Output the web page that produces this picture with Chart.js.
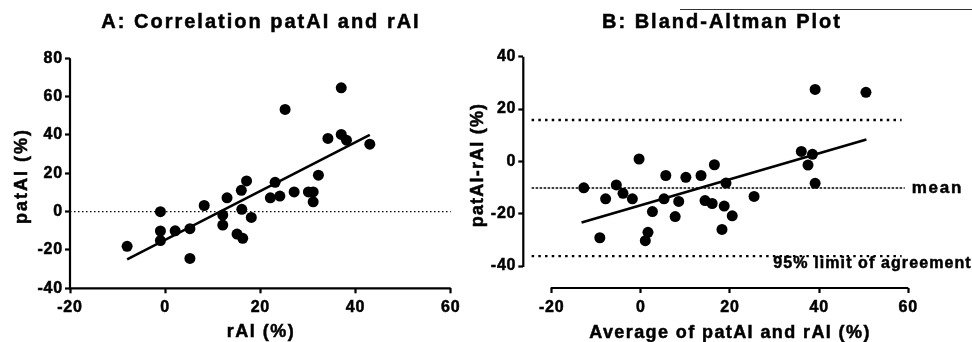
<!DOCTYPE html>
<html>
<head>
<meta charset="utf-8">
<script src="https://cdn.jsdelivr.net/npm/chart.js@4/dist/chart.umd.min.js"></script>
<style>
    html, body { margin: 0; padding: 0; background: #fff; }
    #wrap { position: relative; width: 972px; height: 342px; overflow: hidden; }
    canvas { position: absolute; top: 0; }
    #corrChart { left: 0; }
    #baChart { left: 466px; }
</style>
</head>
<body>
<div id="wrap">
    <canvas id="corrChart" width="466" height="342"></canvas>
    <canvas id="baChart" width="506" height="342"></canvas>
</div>
<script>
// ===== DATA =====

// A: correlation patAI vs rAI
const corrRai   = [-8, -1, -1, -1, 2.1, 5.2, 5.2, 8.2, 12.1, 12.1, 13, 15.1, 16.3, 16, 17.1, 16.1, 18.1, 22.1, 24.1, 23.1, 25.2, 27.1, 30.1, 31.1, 31.1, 32.2, 34.2, 37, 37, 38.1, 43];
const corrPatai = [-18.1, 0, -10.1, -15.1, -10, -8.9, -24.4, 3.2, -1.8, -7, 7.2, -11.7, -13.9, 11.1, 16, 1.2, -3, 7.2, 8.1, 15.3, 53.3, 10.3, 10.3, 10.3, 5.1, 19, 38.2, 64.6, 40.3, 37.3, 35.2];
const corrFitX  = [-8, 43];
const corrFitY  = [-24.9, 40];
const corrZeroX = [-20, 60];
const corrXTicks = [-20, 0, 20, 40, 60];
const corrYTicks = [-40, -20, 0, 20, 40, 60, 80];

// B: Bland-Altman
const baAvg  = [-12.8, -9.2, -7.9, -5.5, -4, -1.9, -0.4, 1, 1.6, 2.6, 5.2, 5.6, 7.7, 8.5, 10.1, 13.5, 14.4, 16, 16.5, 18.2, 18.7, 19.1, 20.5, 25.4, 36, 38.5, 37.5, 39.1, 39.1, 50.5];
const baDiff = [-10.1, -29.2, -14.3, -9, -12.2, -14.3, 0.9, -30.3, -27.1, -19.2, -14.3, -5.4, -21.1, -15.3, -6.1, -5.4, -15, -16.1, -1.3, -26, -17.1, -8.3, -20.8, -13.4, 3.8, 2.7, -1.4, 27.5, -8.4, 26.4];
const baFitX  = [-13.3, 50.6];
const baFitY  = [-23.4, 8.4];
const baMean  = -10.2;
const baUpper = 15.8;
const baLower = -36.2;
const baLimitX = [-24.5, 58.5];
const baMeanX  = [-24.5, 59.2];
const baXTicks = [-20, 0, 20, 40, 60];
const baYTicks = [-40, -20, 0, 20, 40];

const FONT = '"Liberation Sans", Arial, sans-serif';

// ===== HELPERS =====

function pts(xs, ys) {
    return xs.map((x, i) => ({ x: x, y: ys[i] }));
}

function hline(xs, y) {
    return xs.map(x => ({ x: x, y: y }));
}

function drawText(ctx, text, x, y, size, spacing, align, rotate) {
    ctx.save();
    ctx.font = 'bold ' + size + 'px ' + FONT;
    ctx.letterSpacing = spacing + 'px';
    ctx.fillStyle = '#000';
    ctx.strokeStyle = '#000';
    ctx.lineWidth = 0.5;
    ctx.textAlign = align || 'center';
    ctx.textBaseline = 'middle';
    ctx.translate(x, y);
    if (rotate) ctx.rotate(-Math.PI / 2);
    ctx.fillText(text, 0, 0);
    ctx.strokeText(text, 0, 0);
    ctx.restore();
}

// axis lines drawn only over the tick range (Prism-style offset axes)
const axisPlugin = {
    id: 'axisLines',
    beforeDraw(chart) {
        chart.ctx.letterSpacing = '0.8px';
    },
    afterDraw(chart, args, opts) {
        const ctx = chart.ctx;
        const xs = chart.scales.x, ys = chart.scales.y;
        const a = chart.chartArea;
        ctx.save();
        ctx.strokeStyle = '#000';
        ctx.lineWidth = 2.2;
        ctx.beginPath();
        ctx.moveTo(a.left, ys.getPixelForValue(opts.yRange[1]));
        ctx.lineTo(a.left, ys.getPixelForValue(opts.yRange[0]) + 1);
        ctx.moveTo(xs.getPixelForValue(opts.xRange[0]) - 1, a.bottom);
        ctx.lineTo(xs.getPixelForValue(opts.xRange[1]), a.bottom);
        ctx.stroke();
        ctx.restore();
        (opts.texts || []).forEach(t => {
            drawText(ctx, t.text, t.x, t.y, t.size, t.spacing, t.align, t.rotate);
        });
        if (opts.extra) opts.extra(chart);
    }
};

function scaleOpts(min, max, ticks, size, side) {
    return {
        type: 'linear',
        min: min,
        max: max,
        afterBuildTicks: s => { s.ticks = ticks.map(v => ({ value: v })); },
        afterFit: s => {
            if (side === 'x') s.height = size; else s.width = size;
        },
        border: { display: false },
        grid: { display: true, drawOnChartArea: false, drawTicks: true, tickLength: 5, tickWidth: 2.2, tickColor: '#000' },
        ticks: {
            color: '#000',
            textStrokeColor: '#000',
            textStrokeWidth: 0.5,
            padding: side === 'x' ? 5 : 2,
            font: { family: FONT, size: 16, weight: 'bold' },
            maxRotation: 0,
            autoSkip: false
        }
    };
}

function pointSet(data) {
    return { data: data, pointRadius: 5.5, pointBackgroundColor: '#000', pointBorderWidth: 0, showLine: false };
}

function lineSet(data, width, dash) {
    return { data: data, showLine: true, pointRadius: 0, borderColor: '#000', borderWidth: width, borderDash: dash || [], clip: false };
}

// ===== CHART A =====

new Chart(document.getElementById('corrChart'), {
    type: 'scatter',
    data: {
        datasets: [
            pointSet(pts(corrRai, corrPatai)),
            lineSet(pts(corrFitX, corrFitY), 2.6),
            lineSet(hline(corrZeroX, 0), 1.2, [1.5, 2.5])
        ]
    },
    options: {
        responsive: false,
        animation: false,
        events: [],
        layout: { padding: { top: 58.3, right: 15.3, left: 0, bottom: 0 } },
        scales: {
            x: scaleOpts(-20, 60, corrXTicks, 53.7, 'x'),
            y: scaleOpts(-40, 80, corrYTicks, 70, 'y')
        },
        plugins: {
            legend: { display: false },
            tooltip: { enabled: false },
            axisLines: {
                xRange: [-20, 60],
                yRange: [-40, 80],
                texts: [
                    { text: 'A: Correlation patAI and rAI', x: 261, y: 22, size: 20, spacing: 2 },
                    { text: 'rAI (%)', x: 261, y: 332, size: 18, spacing: 1.5 },
                    { text: 'patAI (%)', x: 22, y: 176, size: 18, spacing: 2 , rotate: true }
                ]
            }
        }
    },
    plugins: [axisPlugin]
});

// ===== CHART B =====

new Chart(document.getElementById('baChart'), {
    type: 'scatter',
    data: {
        datasets: [
            pointSet(pts(baAvg, baDiff)),
            lineSet(pts(baFitX, baFitY), 2.6),
            lineSet(hline(baMeanX, baMean), 1.5, [2.5, 1.5]),
            lineSet(hline(baLimitX, baUpper), 2.4, [2.5, 4.2]),
            lineSet(hline(baLimitX, baLower), 2.4, [2.5, 4.2])
        ]
    },
    options: {
        responsive: false,
        animation: false,
        events: [],
        layout: { padding: { top: 56.7, right: 63.7, left: 0, bottom: 0 } },
        scales: {
            x: scaleOpts(-26.37, 60, baXTicks, 54, 'x'),
            y: scaleOpts(-48.4, 40, baYTicks, 57.3, 'y')
        },
        plugins: {
            legend: { display: false },
            tooltip: { enabled: false },
            axisLines: {
                xRange: [-20, 60],
                yRange: [-40, 40],
                texts: [
                    { text: 'B: Bland-Altman Plot', x: 256, y: 22, size: 20, spacing: 2 },
                    { text: 'Average of patAI and rAI (%)', x: 264, y: 333, size: 18, spacing: 1.4 },
                    { text: 'patAI-rAI (%)', x: 12, y: 165, size: 18, spacing: 1.2, rotate: true }
                ],
                extra: chart => {
                    const ctx = chart.ctx;
                    const ys = chart.scales.y;
                    drawText(ctx, 'mean', 445.7, ys.getPixelForValue(baMean), 17, 1.8, 'left');
                    drawText(ctx, '95% limit of agreement', 307.3, ys.getPixelForValue(baLower) + 7.5, 16, 1.1, 'left');
                    ctx.save();
                    ctx.strokeStyle = '#333';
                    ctx.lineWidth = 1;
                    ctx.beginPath();
                    ctx.moveTo(214, 9.5);
                    ctx.lineTo(506, 9.5);
                    ctx.stroke();
                    ctx.restore();
                }
            }
        }
    },
    plugins: [axisPlugin]
});
</script>
</body>
</html>
